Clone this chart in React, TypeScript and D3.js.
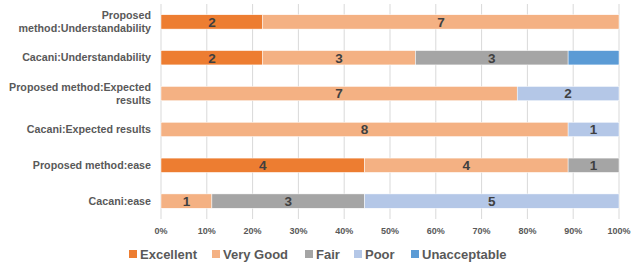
import React from "react";
import * as d3 from "d3";

const categories = [
  "Proposed method:Understandability",
  "Cacani:Understandability",
  "Proposed method:Expected results",
  "Cacani:Expected results",
  "Proposed method:ease",
  "Cacani:ease",
];
// label lines as drawn in the picture
const categoryLines = [
  ["Proposed", "method:Understandability"],
  ["Cacani:Understandability"],
  ["Proposed method:Expected", "results"],
  ["Cacani:Expected results"],
  ["Proposed method:ease"],
  ["Cacani:ease"],
];
const seriesNames = ["Excellent", "Very Good", "Fair", "Poor", "Unacceptable"];
const excellent = [2, 2, 0, 0, 4, 0];
const veryGood = [7, 3, 7, 8, 4, 1];
const fair = [0, 3, 0, 0, 1, 3];
const poor = [0, 0, 2, 1, 0, 5];
const unacceptable = [0, 1, 0, 0, 0, 0];
const colors = ["#ED7D31", "#F4B183", "#A5A5A5", "#B4C7E7", "#5B9BD5"];
const showLabels = [true, true, true, true, false];
const ticks = [0, 0.1, 0.2, 0.3, 0.4, 0.5, 0.6, 0.7, 0.8, 0.9, 1];

const width = 640;
const height = 266;
const margin = { top: 4, right: 21, bottom: 47, left: 161 };
const font = "'Liberation Sans', Arial, sans-serif";

export default function App() {
  const values = [excellent, veryGood, fair, poor, unacceptable];
  const rows = categories.map((c, i) => {
    const row: any = { category: c };
    seriesNames.forEach((s, j) => (row[s] = values[j][i]));
    return row;
  });
  const stacked = d3.stack().keys(seriesNames).offset(d3.stackOffsetExpand)(rows);

  const x = d3.scaleLinear().domain([0, 1]).range([margin.left, width - margin.right]);
  const y = d3
    .scaleBand()
    .domain(categories)
    .range([margin.top, height - margin.bottom])
    .paddingInner(0.6)
    .paddingOuter(0.3);

  const legendX = [129, 212, 305, 354, 411];

  return (
    <svg width={width} height={height} style={{ position: "absolute", left: 0, top: 0, fontFamily: font }}>
      <rect width={width} height={height} fill="#fff" />
      {ticks.map((t) => (
        <line key={t} x1={x(t)} x2={x(t)} y1={margin.top} y2={height - margin.bottom} stroke="#D9D9D9" strokeWidth={1} />
      ))}
      {stacked.map((layer, j) =>
        layer.map((d, i) => {
          const v = values[j][i];
          if (!v) return null;
          const x0 = x(d[0]);
          const x1 = x(d[1]);
          const yy = y(categories[i])!;
          return (
            <g key={`${j}-${i}`}>
              <rect x={x0} y={yy} width={x1 - x0} height={y.bandwidth()} fill={colors[j]} stroke="#fff" strokeWidth={0.5} />
              {showLabels[j] && (
                <text
                  x={(x0 + x1) / 2}
                  y={yy + y.bandwidth() / 2}
                  dy="0.36em"
                  textAnchor="middle"
                  fontSize={13.5}
                  fontWeight="bold"
                  fill="#404040"
                >
                  {v}
                </text>
              )}
            </g>
          );
        })
      )}
      {categories.map((c, i) => {
        const lines = categoryLines[i];
        const cy = y(c)! + y.bandwidth() / 2;
        return (
          <text key={c} textAnchor="end" fontSize={10.7} fontWeight="bold" fill="#595959">
            {lines.map((l, k) => (
              <tspan key={k} x={margin.left - 10} y={cy + (k - (lines.length - 1) / 2) * 12.5} dy="0.35em">
                {l}
              </tspan>
            ))}
          </text>
        );
      })}
      {ticks.map((t) => (
        <text key={t} x={x(t)} y={231} dy="0.35em" textAnchor="middle" fontSize={9} fontWeight="bold" fill="#595959">
          {d3.format(".0%")(t)}
        </text>
      ))}
      {seriesNames.map((s, j) => (
        <g key={s} transform={`translate(${legendX[j]},254)`}>
          <rect x={0} y={-4} width={8} height={8} fill={colors[j]} />
          <text x={11} y={0} dy="0.36em" fontSize={13} fontWeight="bold" fill="#595959">
            {s}
          </text>
        </g>
      ))}
    </svg>
  );
}
